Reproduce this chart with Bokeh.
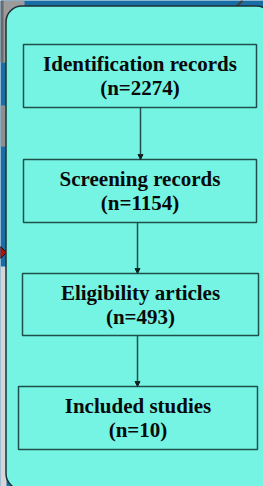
from bokeh.plotting import figure
from bokeh.models import Range1d, Arrow, NormalHead, ColumnDataSource
from bokeh.core.properties import value
from bokeh.embed import file_html
from bokeh.resources import INLINE

# ---- data ----
stages = ["Identification records", "Screening records", "Eligibility articles", "Included studies"]
counts = [2274, 1154, 493, 10]
count_labels = ["(n=%d)" % c for c in counts]

# ---- layout (reference pixel coordinates, y downward) ----
box_left = [23, 23, 22, 18]
box_right = [256, 256, 258, 257]
box_top = [44, 159, 273, 386]
box_bottom = [107, 222, 335, 449]
arrow_x = [140, 137, 137]

W, H = 263, 486
p = figure(width=W, height=H, output_backend="svg", toolbar_location=None,
           x_range=Range1d(0, W), y_range=Range1d(H, 0), min_border=0)
p.axis.visible = False
p.grid.visible = False
p.outline_line_color = None
p.background_fill_color = "#1a6ea6"
p.border_fill_color = "#1a6ea6"

# background decorations around the panel
p.quad(left=[0], right=[24], top=[0], bottom=[62], fill_color="#9b9b9b", line_color=None)
p.quad(left=[0], right=[3], top=[0], bottom=[62], fill_color="#6a6a6a", line_color=None)
p.quad(left=[0], right=[6], top=[105], bottom=[146], fill_color="#8f8f8f", line_color=None)
p.quad(left=[0], right=[6], top=[266], bottom=[486], fill_color="#d6d6d6", line_color=None)
p.patch(x=[0, 6, 0], y=[246, 252, 258], fill_color="#b01010", line_color="#300000", line_width=1)
p.segment(x0=[236], y0=[6], x1=[242], y1=[0], line_color="#4a3a30", line_width=2)

# panel
p.quad(left=[5.5], right=[272], top=[5.5], bottom=[489], fill_color="#75f4e3",
       line_color="#1c2f33", line_width=1.5, border_radius=16)

# boxes
src = ColumnDataSource(dict(l=box_left, r=box_right, t=box_top, b=box_bottom))
p.quad(left="l", right="r", top="t", bottom="b", source=src, fill_color=None,
       line_color="#1f4f4b", line_width=1.5)

# arrows
for i, ax in enumerate(arrow_x):
    p.add_layout(Arrow(x_start=ax, y_start=box_bottom[i], x_end=ax, y_end=box_top[i + 1],
                       line_color="#1f4f4b", line_width=1.5,
                       end=NormalHead(size=5, fill_color="#102020", line_color="#102020", line_width=1)))

# texts
cx = [(l + r) / 2 for l, r in zip(box_left, box_right)]
y1 = [t + 19 for t in box_top]
y2 = [t + 43 for t in box_top]
for ys, labels in ((y1, stages), (y2, count_labels)):
    p.text(x=cx, y=ys, text=labels, text_align="center", text_baseline="middle",
           text_font=value("Liberation Serif"), text_font_style="bold",
           text_font_size="21px", text_color="#0a0a0a")

open("out.html", "w").write(file_html(p, INLINE))
